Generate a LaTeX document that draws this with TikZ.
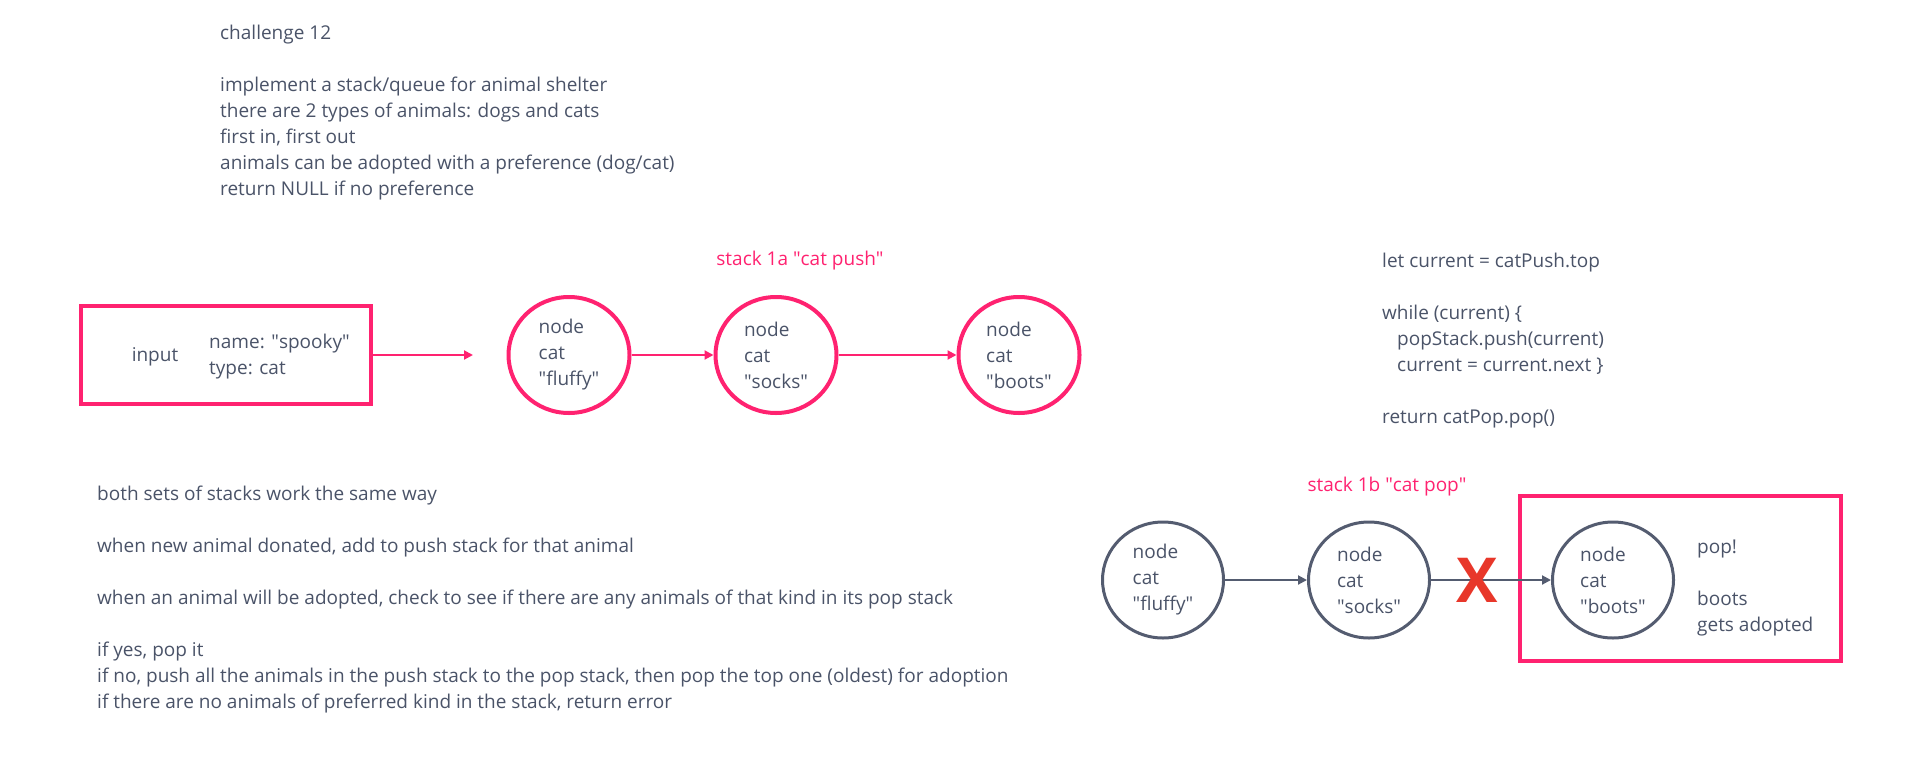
\documentclass[tikz,border=0pt]{standalone}
\usepackage{fontspec}
\setmainfont{Open Sans}
\usetikzlibrary{shapes.geometric,arrows.meta}
\definecolor{shelterpink}{HTML}{FF2270}
\definecolor{notegray}{HTML}{4A5368}
\definecolor{linegray}{HTML}{545C70}
\definecolor{crossred}{HTML}{E8372A}
\newcommand{\dq}[1]{\textquotedbl#1\textquotedbl}
\tikzset{
  notes/.style={anchor=west, align=left, text=notegray, inner sep=0pt, font=\fontsize{19}{26}\selectfont},
  stacktitle/.style={text=shelterpink, inner sep=0pt, font=\fontsize{19}{26}\selectfont},
  pushnode/.style={ellipse, draw=shelterpink, line width=4pt, minimum width=121pt, minimum height=116pt, inner sep=0pt, align=left, text=notegray, font=\fontsize{19}{26}\selectfont},
  popnode/.style={pushnode, draw=linegray, line width=3pt},
  pushlink/.style={draw=shelterpink, line width=2pt, -{Triangle[length=9pt,width=9pt]}},
  poplink/.style={draw=linegray, line width=2pt, -{Triangle[length=9pt,width=9pt]}},
  framebox/.style={draw=shelterpink, line width=4pt, inner sep=0pt}
}
\begin{document}
\begin{tikzpicture}[x=1pt,y=-1pt]
  \useasboundingbox (0,0) rectangle (1909,763);

  % notes
  \node[notes] (intro) at (220,112.5) {challenge 12\\[26pt]implement a stack/queue for animal shelter\\there are 2 types of animals: dogs and cats\\first in, first out\\animals can be adopted with a preference (dog/cat)\\return NULL if no preference};
  \node[notes] (rules) at (97,599.5) {both sets of stacks work the same way\\[26pt]when new animal donated, add to push stack for that animal\\[26pt]when an animal will be adopted, check to see if there are any animals of that kind in its pop stack\\[26pt]if yes, pop it\\if no, push all the animals in the push stack to the pop stack, then pop the top one (oldest) for adoption\\if there are no animals of preferred kind in the stack, return error};
  \node[notes] (code) at (1382,341) {let current = catPush.top\\[26pt]while (current) \{\\\hspace*{15pt}popStack.push(current)\\\hspace*{15pt}current = current.next \}\\[26pt]return catPop.pop()};

  % input
  \node[framebox, minimum width=290pt, minimum height=98pt] (inbox) at (226,355) {};
  \node[notes, anchor=center] (inlabel) at (155,357) {input};
  \node[notes] (infields) at (209,356.5) {name: \dq{spooky}\\type: cat};
  \coordinate (inend) at (473,355);
  \draw[pushlink] (inbox.east) -- (inend);

  % stack 1a
  \node[stacktitle] (pushtitle) at (800,261) {stack 1a \dq{cat push}};
  \node[pushnode] (push1) at (569,355) {node\\cat\\\dq{fluffy}};
  \node[pushnode] (push2) at (776,355) {node\\cat\\\dq{socks}};
  \node[pushnode] (push3) at (1019,355) {node\\cat\\\dq{boots}};
  \draw[pushlink] (push1) -- (push2);
  \draw[pushlink] (push2) -- (push3);

  % stack 1b
  \node[stacktitle] (poptitle) at (1387,487) {stack 1b \dq{cat pop}};
  \node[framebox, minimum width=321pt, minimum height=165pt] (popbox) at (1680.5,578.5) {};
  \node[popnode] (pop1) at (1163,580) {node\\cat\\\dq{fluffy}};
  \node[popnode] (pop2) at (1369,580) {node\\cat\\\dq{socks}};
  \node[popnode] (pop3) at (1613,580) {node\\cat\\\dq{boots}};
  \draw[poplink] (pop1) -- (pop2);
  \draw[poplink] (pop2) -- (pop3);
  \node[text=crossred, inner sep=0pt, font=\fontsize{62}{62}\bfseries\selectfont] (cross) at (1477,580) {X};
  \node[notes] (popnote) at (1697,587.5) {pop!\\[26pt]boots\\gets adopted};
\end{tikzpicture}
\end{document}
